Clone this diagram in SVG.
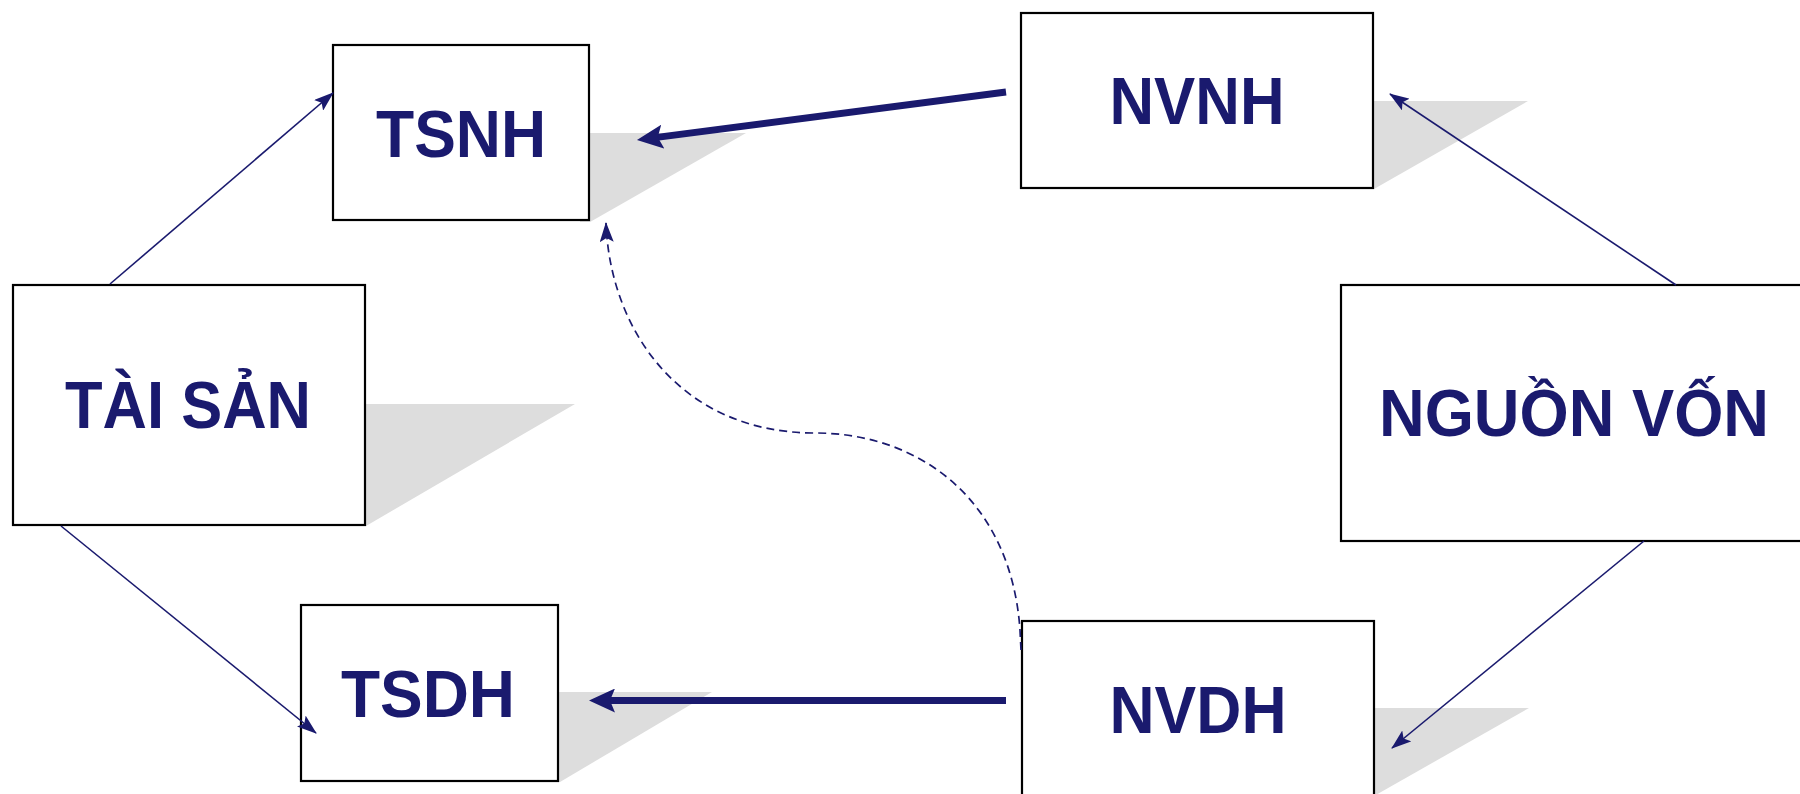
<svg xmlns="http://www.w3.org/2000/svg" width="1800" height="794" viewBox="0 0 1800 794">
  <style>
    .box { fill: #ffffff; stroke: #000000; stroke-width: 2.2; }
    .shadow { fill: #dddddd; stroke: none; }
    .label { font-family: "Liberation Sans", Arial, sans-serif; font-weight: bold; font-size: 66px; fill: #1a1a6e; text-anchor: middle; }
    .thin { fill: none; stroke: #1a1a6e; stroke-width: 1.6; marker-end: url(#headThin); }
    .thick { fill: none; stroke: #1a1a6e; stroke-width: 7; marker-end: url(#headThick); }
    .dashed { fill: none; stroke: #1a1a6e; stroke-width: 1.7; stroke-dasharray: 8 5; marker-end: url(#headThin); }
  </style>
  <defs>
    <marker id="headThin" markerUnits="userSpaceOnUse" markerWidth="21" markerHeight="14" viewBox="0 0 21 14" refX="19" refY="7" orient="auto">
      <path d="M0,0 L20,7 L0,14 L4,7 z" fill="#1a1a6e"/>
    </marker>
    <marker id="headThick" markerUnits="userSpaceOnUse" markerWidth="27" markerHeight="24" viewBox="0 0 27 24" refX="6" refY="12" orient="auto">
      <path d="M0,0 L26,12 L0,24 L5,12 z" fill="#1a1a6e"/>
    </marker>
  </defs>

  <rect width="1800" height="794" fill="#ffffff"/>

  <!-- drop shadows behind the boxes -->
  <g id="shadows">
    <polygon class="shadow" points="580,133 746,133 590,222 580,222"/>
    <polygon class="shadow" points="355,404 575,404 366,526 355,526"/>
    <polygon class="shadow" points="1365,101 1528,101 1374,189 1365,189"/>
    <polygon class="shadow" points="1365,708 1529,708 1367,800 1365,800"/>
    <polygon class="shadow" points="550,692 712,692 560,782 550,782"/>
  </g>

  <g id="node-tsnh">
    <rect class="box" x="333" y="45" width="256" height="175"/>
    <text class="label" x="461" y="157" textLength="170" lengthAdjust="spacingAndGlyphs">TSNH</text>
  </g>

  <g id="node-taisan">
    <rect class="box" x="13" y="285" width="352" height="240"/>
    <text class="label" x="188" y="428" textLength="246" lengthAdjust="spacingAndGlyphs">TÀI SẢN</text>
  </g>

  <g id="node-tsdh">
    <rect class="box" x="301" y="605" width="257" height="176"/>
    <text class="label" x="428" y="717" textLength="174" lengthAdjust="spacingAndGlyphs">TSDH</text>
  </g>

  <g id="node-nvnh">
    <rect class="box" x="1021" y="13" width="352" height="175"/>
    <text class="label" x="1197" y="124" textLength="175" lengthAdjust="spacingAndGlyphs">NVNH</text>
  </g>

  <g id="node-nguonvon">
    <rect class="box" x="1341" y="285" width="470" height="256"/>
    <text class="label" x="1574" y="436" textLength="390" lengthAdjust="spacingAndGlyphs">NGUỒN VỐN</text>
  </g>

  <g id="node-nvdh">
    <rect class="box" x="1022" y="621" width="352" height="185"/>
    <text class="label" x="1198" y="733" textLength="177" lengthAdjust="spacingAndGlyphs">NVDH</text>
  </g>

  <!-- connectors sit above the boxes so heads landing inside stay visible -->
  <g id="connectors">
    <path class="thin" d="M110,284 L333,93"/>
    <path class="thin" d="M61,526 L316,733"/>
    <path class="thin" d="M1676,285 L1390,94"/>
    <path class="thin" d="M1644,541 L1392,748"/>
    <path class="thick" d="M1006,92 L656.8,137.4"/>
    <path class="thick" d="M1006,700.5 L609,700.5"/>
    <path class="dashed" d="M1021,650 L1020,630 C1011,500 920,433 815,433 C680,433 610,330 606,223"/>
  </g>
</svg>
